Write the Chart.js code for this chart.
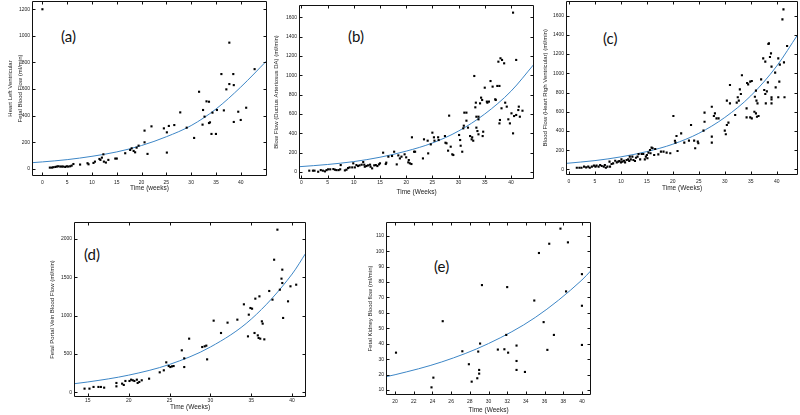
<!DOCTYPE html>
<html><head><meta charset="utf-8">
<script src="https://cdn.jsdelivr.net/npm/chart.js@4/dist/chart.umd.min.js"></script>
<style>
html,body{margin:0;padding:0;background:#fff;width:800px;height:415px;overflow:hidden;position:relative}
canvas{position:absolute}
.lbl{position:absolute;font-family:Lato,'Open Sans',sans-serif;font-size:15px;color:#111;line-height:1;white-space:nowrap}
</style></head><body>
<div class="lbl" style="left:61px;top:29px">(a)</div>
<div class="lbl" style="left:348px;top:29px">(b)</div>
<div class="lbl" style="left:603px;top:31px">(c)</div>
<div class="lbl" style="left:84px;top:247px">(d)</div>
<div class="lbl" style="left:434px;top:259px">(e)</div>
<script>
// ---------- DATA ----------
// (a) Heart left ventricular fetal blood flow
const aX = [0, 1.5,1.9,2.2,2.6,2.9,3.2,3.6,3.9,4.2,4.6,4.9,5.2,5.6,5.9,
  6.25,7.6,9.1,9.3,10.3,10.6,11.5,11.7,12,12.3,12.4,12.8,13.3,14.7,15,
  16.7,17.7,18,18.4,18.7,19,19.4,20.6,20.6,21.2,22,
  24.5,25.1,25.1,25.5,26.6,27.8,29.1,30.6,31.6,
  32.3,32.4,32.7,33.1,33.6,33.6,33.8,34.1,34.3,35,35.2,
  36.1,36.6,37.1,37.7,37.7,38.5,38.6,38.6,39.5,40,41.1,42.8];
const aY = [1200, 10,10,13,15,18,20,18,18,18,15,20,18,20,25,
  37,33,43,35,45,55,75,68,85,110,55,48,68,78,78,
  118,143,155,135,125,160,175,288,200,113,320,
  305,275,123,323,330,425,310,233,580,
  333,443,393,508,505,345,350,263,423,263,443,
  713,440,598,949,638,713,630,353,430,368,460,750];
const aFitX = [-2.1,0,5,10,15,20,25,30,35,40,45.3];
const aFitY = [47,53,70,95,128,176,242,326,450,615,815];
const aXTicks = [0,5,10,15,20,25,30,35,40];
const aYTicks = [0,200,400,600,800,1000,1200];

// (b) Ductus arteriosus
const bX = [1.5,2.2,2.5,3.2,3.7,4.1,4.5,4.8,5.1,5.5,6.1,6.4,6.7,7.1,7.4,7.5,8.3,8.6,8.9,9.2,9.7,9.9,10.2,10.5,10.8,11.1,11.5,11.8,12,12.1,12.4,12.7,13.1,13.2,13.5,13.9,14.2,14.5,14.8,15,
  15.6,16.1,16.2,16.6,17.3,17.7,18.2,18.5,18.8,19.1,19.7,20,20.4,20.5,20.7,21,21.1,21.5,21.7,23.2,23.4,24.1,24.2,24.7,25,25.3,25.4,26.1,26.2,27.4,27.5,27.7,28,28.2,28.5,28.8,29,
  30.1,30.3,30.4,30.7,30.9,31,31.1,31.5,31.5,31.8,32.2,32.5,32.6,32.8,33,33.2,33.3,33.4,33.8,33.8,33.4,33.6,33.8,34.1,34.3,34.5,34.7,34.6,35,35.4,35.5,35.8,36.1,36.5,37,37.1,37.4,37.8,37.6,38,38.3,38.7,
  37.8,37.9,38.2,38.9,39.2,39.5,39.8,40.1,40.4,40.4,41,40.6,41,41.4,41.5,41.7,42.2];
const bY = [14,14,14,3,20,14,7,20,28,28,31,24,20,20,28,72,17,24,41,48,48,90,48,72,62,69,76,103,76,55,62,69,76,55,38,69,72,62,79,90,
  200,83,97,159,166,210,79,172,141,159,183,152,100,124,90,83,359,210,210,141,338,324,193,286,407,359,324,359,331,372,303,297,221,583,262,183,176,
  383,331,272,210,452,479,614,614,531,459,372,338,359,324,993,669,717,572,572,545,459,424,390,710,769,745,417,372,872,728,717,728,941,883,752,745,890,890,1141,1176,1159,1124,
  503,538,659,717,676,545,503,607,400,1648,1159,579,590,641,676,572,634];
const bFitX = [-0.46,5,10,15,20,25,30,35,40,44.4];
const bFitY = [55,78,108,153,216,300,424,600,835,1115];
const bXTicks = [0,5,10,15,20,25,30,35,40];
const bYTicks = [0,200,400,600,800,1000,1200,1400,1600];

// (c) Heart right ventricular
const cX = [1.5,2,2.4,2.9,3.3,3.7,4,4.4,4.8,5.1,5.3,5.7,6,6.3,6.7,6.9,7.1,7.4,7.8,7.9,8.2,8.5,8.9,9.2,9.5,9.7,10,10.1,10.3,10.6,10.8,11.1,11.4,11.6,11.7,11.9,12.2,12.4,12.7,12.9,13.2,13.4,13.7,14,14.3,14.6,14.8,15,15.1,15.3,15.6,15.7,15.9,16.1,16.4,16.6,17.2,17.7,18.2,18.8,19.5,
  20.1,20.4,20.5,20.7,20.9,21.6,22.2,23.5,23.1,24.1,24.3,24.8,24.9,26.1,26.1,25.9,27.5,27.5,27.5,27.9,28.1,28.4,28.8,
  30,30.2,30.4,30.4,30.7,31,31,32,32.3,32.5,32.7,32.9,33.1,33.3,34.2,34.2,34.3,34.5,34.9,35.2,34.9,35.2,35.8,36,36.1,36.3,35.7,36,36.2,36.5,
  37,37.4,37.8,37.8,37.6,37.9,38.1,38.3,38.4,38.5,38.7,38.9,39,39,39,39,39.7,39.8,40.3,40.3,40.5,40.6,41.1,41.3,41.4,42,41.5];
const cY = [17,17,17,28,21,28,17,28,38,28,38,28,45,35,28,45,17,28,80,28,56,62,90,73,80,87,73,104,80,90,73,97,104,87,132,104,132,97,87,121,132,160,104,160,160,104,132,149,115,174,201,167,226,219,149,212,156,184,184,174,167,
  555,298,278,347,191,375,278,462,299,299,219,288,271,590,496,403,652,340,278,555,583,531,531,
  403,365,715,462,486,687,878,566,694,750,715,833,784,979,635,541,899,885,913,920,541,531,756,819,715,687,600,583,548,555,
  937,1156,1121,784,826,687,812,906,1305,1312,1170,1208,1069,750,729,687,1007,854,750,1156,913,1090,1562,1666,1114,1284,750];
const cFitX = [-0.58,5,10,15,20,25,30,35,40,44.1];
const cFitY = [62,91,130,185,262,375,540,765,1075,1407];
const cXTicks = [0,5,10,15,20,25,30,35,40];
const cYTicks = [0,200,400,600,800,1000,1200,1400,1600];

// (d) Fetal portal vein
const dX = [14.6,15.2,15.7,16.3,16.6,17,18.5,18.5,19.2,19.4,19.6,20.1,20.3,20.5,20.7,21,21.1,21.3,21.6,22.5,23.8,24.3,24.6,24.9,25.1,25.3,25.5,26.5,26.8,26.8,27.4,29,29.3,29.5,29.6,
  30.4,31.3,32.1,33.3,34.1,34.7,34.9,35.1,34.6,35.5,35.4,35.8,36,35.9,36.1,36.3,36.4,36.6,37.2,37.6,37.8,38.2,38.5,38.8,38.7,38.8,38.9,39.5,39.8,40.5];
const dY = [48,48,70,70,70,61,122,78,113,96,148,148,165,157,148,165,122,135,157,178,261,287,391,343,330,339,343,548,330,443,700,591,600,609,430,
  935,774,909,948,1148,1013,1100,1091,730,1222,774,743,1252,709,700,926,896,691,1322,1209,1730,2122,1339,1600,1483,1426,970,1187,1383,1404];
const dFitX = [13.31,15,20,25,30,35,40,41.7];
const dFitY = [112,135,224,364,591,955,1543,1820];
const dXTicks = [15,20,25,30,35,40];
const dYTicks = [0,500,1000,1500,2000];

// (e) Fetal kidney
const eX = [20.1,23.9,24.1,25.1,27.2,27.9,28.2,28.8,28.9,29,29,29.1,29.3,31,31.7,32,31.9,32.1,33,33,33,33.9,34.9,35.4,35.9,36.3,36.5,37,37.7,38.3,38.5,40,40,40];
const eY = [34.2,11.7,18,54.6,35.1,26.7,15.4,17.6,34.9,23,20.6,40.1,78,36.2,36.4,76.7,45.7,34.2,38.8,28.8,23,21.7,68,98.8,54,36,104.8,45.7,114.6,73.9,105.7,85.1,64.6,39.2];
const eFitX = [19.03,20,25,30,35,40,40.97];
const eFitY = [18.6,19.9,28.2,40.1,57,81.3,87.4];
const eXTicks = [20,22,24,26,28,30,32,34,36,38,40];
const eYTicks = [10,20,30,40,50,60,70,80,90,100,110];

// ---------- DRAWING ----------
const FONT = "'Liberation Sans', Arial, sans-serif";
const TXT = '#222';
const BLUE = '#3d86c6';

const framePlugin = {
  id: 'frame',
  afterDatasetsDraw(chart) {
    const {ctx, chartArea: ca, scales} = chart;
    const xs = scales.x, ys = scales.y;
    ctx.save();
    ctx.strokeStyle = '#111';
    ctx.lineWidth = 1;
    ctx.beginPath();
    const L = Math.round(ca.left) + 0.5, R = Math.round(ca.right) - 0.5;
    const T = Math.round(ca.top) + 0.5, B = Math.round(ca.bottom) - 0.5;
    ctx.rect(L, T, R - L, B - T);
    const tl = 3;
    xs.ticks.forEach(t => {
      const p = Math.round(xs.getPixelForValue(t.value)) + 0.5;
      ctx.moveTo(p, B); ctx.lineTo(p, B - tl);
      ctx.moveTo(p, T); ctx.lineTo(p, T + tl);
    });
    ys.ticks.forEach(t => {
      const p = Math.round(ys.getPixelForValue(t.value)) + 0.5;
      ctx.moveTo(L, p); ctx.lineTo(L + tl, p);
      ctx.moveTo(R, p); ctx.lineTo(R - tl, p);
    });
    ctx.stroke();
    ctx.restore();
  }
};

function zip(xa, ya) { return xa.map((v, i) => ({x: v, y: ya[i]})); }

function makePanel(p) {
  const g = p.geom;
  const cl = Math.floor(g.yTitleX - 8);
  const ct = Math.floor(g.t - 8);
  const cr = Math.ceil(g.r + 5);
  const cb = Math.ceil(g.xTitleY + 6);
  const cv = document.createElement('canvas');
  cv.width = cr - cl; cv.height = cb - ct;
  cv.style.left = cl + 'px'; cv.style.top = ct + 'px';
  cv.style.width = (cr - cl) + 'px'; cv.style.height = (cb - ct) + 'px';
  document.body.appendChild(cv);
  const yW = g.l - cl;
  const xH = cb - g.b;
  const titleFont = {family: FONT, size: 6, lineHeight: 1.65};
  const yTitleLH = 6 * 1.65;
  const tickFont = {family: FONT, size: 5, lineHeight: 1.2};
  const plain = v => String(v);
  new Chart(cv, {
    type: 'scatter',
    data: {
      datasets: [
        {type: 'line', data: zip(p.fitX, p.fitY), borderColor: BLUE, borderWidth: 1,
         pointRadius: 0, cubicInterpolationMode: 'monotone', fill: false, order: 2},
        {type: 'scatter', data: zip(p.xs, p.ys), pointStyle: 'rect', pointRadius: 1.5,
         backgroundColor: '#000', borderWidth: 0, order: 1}
      ]
    },
    options: {
      responsive: false, animation: false, devicePixelRatio: 1,
      layout: {padding: {left: 0, top: g.t - ct, right: cr - g.r, bottom: 0}},
      plugins: {legend: {display: false}, tooltip: {enabled: false}},
      scales: {
        x: {
          type: 'linear', min: p.xMin, max: p.xMax,
          grid: {display: false, drawTicks: false}, border: {display: false},
          ticks: {font: tickFont, color: TXT, padding: g.xTickY - g.b - 3, maxRotation: 0, autoSkip: false, callback: plain},
          title: {display: true, text: p.xTitle, font: {family: FONT, size: 6.5}, color: TXT,
                  padding: {top: 0, bottom: cb - g.xTitleY - 3.9}},
          afterBuildTicks(s) { s.ticks = p.xTicks.map(v => ({value: v})); },
          afterFit(s) { s.height = xH; s.paddingLeft = 0; s.paddingRight = 0; }
        },
        y: {
          type: 'linear', min: p.yMin, max: p.yMax,
          grid: {display: false, drawTicks: false}, border: {display: false},
          ticks: {font: tickFont, color: TXT, padding: 2, autoSkip: false, callback: plain},
          title: {display: true, text: p.yTitle, font: titleFont, color: TXT,
                  padding: {top: g.yTitleX - cl - yTitleLH / 2, bottom: 0}},
          afterBuildTicks(s) { s.ticks = p.yTicks.map(v => ({value: v})); },
          afterFit(s) { s.width = yW; s.paddingTop = 0; s.paddingBottom = 0; }
        }
      }
    },
    plugins: [framePlugin]
  });
}

makePanel({xs: aX, ys: aY, fitX: aFitX, fitY: aFitY, xTicks: aXTicks, yTicks: aYTicks,
  xMin: -2.1, xMax: 45.3, yMin: -53, yMax: 1262,
  xTitle: 'Time (weeks)', yTitle: ['Heart Left Ventricular', 'Fetal Blood Flow (ml/min)'],
  geom: {l: 32, t: 1, r: 267, b: 176, yTitleX: 10, xTickY: 182.7, xTitleY: 188.5}});
makePanel({xs: bX, ys: bY, fitX: bFitX, fitY: bFitY, xTicks: bXTicks, yTicks: bYTicks,
  xMin: -0.46, xMax: 44.4, yMin: -72, yMax: 1727,
  xTitle: 'Time (Weeks)', yTitle: 'Blow Flow (Ductus Arteriosus DA) (ml/min)',
  geom: {l: 299, t: 5, r: 534, b: 179, yTitleX: 276.7, xTickY: 182.7, xTitleY: 192}});
makePanel({xs: cX, ys: cY, fitX: cFitX, fitY: cFitY, xTicks: cXTicks, yTicks: cYTicks,
  xMin: -0.58, xMax: 44.1, yMin: -59, yMax: 1758,
  xTitle: 'Time (Weeks)', yTitle: 'Blood Flow (Heart Righ Ventricular) (ml/min)',
  geom: {l: 566, t: 0.5, r: 798, b: 175, yTitleX: 545, xTickY: 181.7, xTitleY: 188.3}});
makePanel({xs: dX, ys: dY, fitX: dFitX, fitY: dFitY, xTicks: dXTicks, yTicks: dYTicks,
  xMin: 13.31, xMax: 41.7, yMin: -61, yMax: 2222,
  xTitle: 'Time (Weeks)', yTitle: 'Fetal Portal Vein Blood Flow (ml/min)',
  geom: {l: 74, t: 222, r: 306, b: 397, yTitleX: 52.7, xTickY: 400.7, xTitleY: 407.7}});
makePanel({xs: eX, ys: eY, fitX: eFitX, fitY: eFitY, xTicks: eXTicks, yTicks: eYTicks,
  xMin: 19.03, xMax: 40.97, yMin: 6.75, yMax: 118.9,
  xTitle: 'Time (Weeks)', yTitle: 'Fetal Kidney Blood flow (ml/min)',
  geom: {l: 386, t: 222, r: 591, b: 395, yTitleX: 370, xTickY: 401.7, xTitleY: 410}});
</script>
</body></html>
